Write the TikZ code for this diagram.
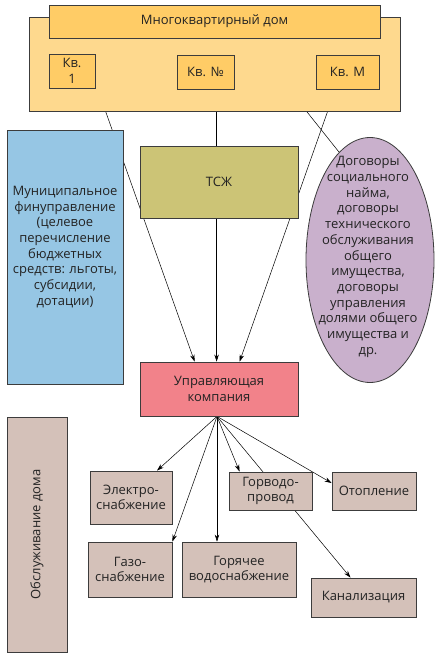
\documentclass[tikz,border=0pt]{standalone}
\usepackage{fontspec}
\setmainfont{Open Sans}
\usetikzlibrary{shapes.geometric,arrows.meta,calc}
\pgfdeclarelayer{bg}
\pgfsetlayers{bg,main}
\definecolor{houseout}{RGB}{254,217,142}
\definecolor{housein}{RGB}{255,204,102}
\definecolor{muniblue}{RGB}{150,198,228}
\definecolor{tsjcol}{RGB}{204,196,118}
\definecolor{ellcol}{RGB}{201,176,204}
\definecolor{ukcol}{RGB}{242,130,138}
\definecolor{servcol}{RGB}{212,193,185}
\definecolor{edge}{RGB}{60,60,60}
\definecolor{txt}{RGB}{35,35,35}
\begin{document}
\begin{tikzpicture}[x=1pt,y=-1pt,
  font=\fontsize{13}{15.7}\selectfont,
  box/.style={draw=edge,line width=0.8pt,inner sep=0pt,align=center,text=txt},
  bx/.style n args={3}{box,minimum width=#1pt,minimum height=#2pt,fill=#3},
  conn/.style={draw=black,line width=0.5pt},
  arr/.style={conn,-{Stealth[length=7pt,width=4.5pt]}}]
\useasboundingbox (0,0) rectangle (438,655);
% house
\node[bx={371}{94}{houseout}] (house) at (214.5,64) {};
\node[bx={331}{33}{housein}] (title) at (214.5,21.5) {Многоквартирный дом};
\node[bx={46}{34}{housein}] (kv1) at (72,71) {Кв.\\1};
\node[bx={57}{34}{housein}] (kvn) at (205.5,72) {Кв. №};
\node[bx={63}{34}{housein}] (kvm) at (347.5,72) {Кв. М};
% middle
\node[bx={116}{254}{muniblue}] (muni) at (65,257) {};
\node[align=center,text=txt,inner sep=0pt] (munitxt) at (65,247) {Муниципальное\\финуправление\\(целевое\\перечисление\\бюджетных\\средств: льготы,\\субсидии,\\дотации)};
\node[bx={158}{72}{tsjcol}] (tsj) at (219,182) {ТСЖ};
\node[draw=edge,line width=0.8pt,ellipse,fill=ellcol,minimum width=128pt,minimum height=245pt,inner sep=0pt] (ell) at (370,260) {};
\node[align=center,text=txt,inner sep=0pt] (elltxt) at (368,257) {Договоры\\социального\\найма,\\договоры\\технического\\обслуживания\\общего\\имущества,\\договоры\\управления\\долями общего\\имущества и\\др.};
\node[bx={158}{54}{ukcol}] (uk) at (219,389) {Управляющая\\компания};
% bottom
\node[bx={60}{235}{servcol}] (obsl) at (37,534.5) {};
\node[rotate=90,text=txt,inner sep=0pt] (obsltxt) at (37,534.5) {Обслуживание дома};
\node[bx={82}{53}{servcol}] (elec) at (131,497.5) {Электро-\\снабжение};
\node[bx={83}{38}{servcol}] (gorv) at (270.5,491) {Горводо-\\провод};
\node[bx={84}{38}{servcol}] (otop) at (374,491) {Отопление};
\node[bx={84}{55}{servcol}] (gas) at (130,569.5) {Газо-\\снабжение};
\node[bx={114}{55}{servcol}] (hot) at (239,569.5) {Горячее\\водоснабжение};
\node[bx={105}{39}{servcol}] (kan) at (363.5,597.5) {Канализация};
\coordinate (hub) at ([xshift=-2pt]uk.south);
\begin{pgfonlayer}{bg}
\draw[arr] ([xshift=77pt]house.south west) -- ([xshift=55pt]uk.north west);
\draw[arr] ([xshift=188pt]house.south west) -- ([xshift=77pt]uk.north west);
\draw[arr] ([xshift=299pt]house.south west) -- ([xshift=100pt]uk.north west);
\draw[conn] ([xshift=278pt]house.south west) -- (ell.106);
\draw[arr] (hub) -- ([xshift=26pt]elec.north);
\draw[arr] (hub) -- (gas.north east);
\draw[arr] (hub) -- (hub |- hot.north);
\draw[arr] (hub) -- ([xshift=11pt]gorv.north west);
\draw[arr] (hub) -- ([xshift=-13pt]kan.north);
\draw[arr] (hub) -- ([yshift=8pt]otop.west);
\end{pgfonlayer}
\end{tikzpicture}
\end{document}
